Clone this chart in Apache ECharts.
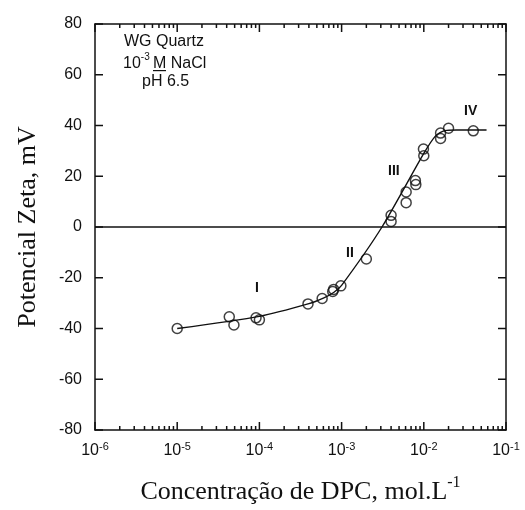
<!DOCTYPE html>
<html>
<head>
<meta charset="utf-8">
<script src="https://cdn.jsdelivr.net/npm/echarts@6/dist/echarts.min.js"></script>
<style>
  html, body { margin: 0; padding: 0; background: #fff; }
  #chart { width: 525px; height: 510px; }
</style>
</head>
<body>
<div id="chart"></div>
<script>
// measured points (concentration, zeta potential)
const concPts = [1e-5, 4.3e-5, 4.9e-5, 9.1e-5, 1.0e-4, 3.9e-4, 5.8e-4, 7.8e-4, 8.0e-4, 9.8e-4, 2.0e-3,
  4.0e-3, 4.0e-3, 6.1e-3, 6.1e-3, 7.9e-3, 8.0e-3, 9.9e-3, 1.0e-2, 1.6e-2, 1.6e-2, 2.0e-2, 4.0e-2]
const zetaPts = [-40, -35.4, -38.6, -35.8, -36.6, -30.3, -28.2, -25.4, -24.6, -23.2, -12.6,
  4.6, 2.2, 13.8, 9.6, 18.3, 16.7, 30.7, 28.1, 37.0, 34.9, 38.9, 37.9]

// hand-drawn trend line
const fitConc = [1e-5, 1e-4, 4e-4, 6e-4, 8e-4, 1e-3, 3.1e-3, 1e-2, 1.4e-2, 1.8e-2, 2.5e-2, 5.8e-2]
const fitZeta = [-40, -35.2, -30.2, -28, -25.8, -23, 0, 29, 36, 38, 38.2, 38.2]

// ticks of the log axis
const decades = [1e-6, 1e-5, 1e-4, 1e-3, 1e-2, 1e-1]
const minorSteps = [2, 3, 4, 5, 6, 7, 8, 9]

// ticks of the zeta axis
const yTickVals = [-80, -60, -40, -20, 0, 20, 40, 60, 80]

const yMin = -80
const yMax = 80
const xMin = 1e-6
const xMax = 1e-1

// [value, tick length]
const xTicks = []
decades.forEach((d, i) => {
  xTicks.push([d, 8])
  if (i < decades.length - 1) {
    minorSteps.forEach((m) => {
      xTicks.push([d * m, 4])
    })
  }
})

const black = '#111'
const sans = 'Liberation Sans'
const serif = 'Liberation Serif'
const tickFont = { fontFamily: sans, fontSize: 16, color: black }

const myChart = echarts.init(document.getElementById('chart'))
const option = {
  animation: false,
  grid: { left: 95, right: 19, top: 24, bottom: 77 },
  xAxis: [
    {
      type: 'log',
      logBase: 10,
      min: xMin,
      max: xMax,
      position: 'bottom',
      axisLine: { show: true, onZero: false, lineStyle: { color: black, width: 1.5 } },
      axisTick: { show: false },
      splitLine: { show: false },
      axisLabel: {
        margin: 11,
        formatter: (v) => '{b|10}{s|' + Math.round(Math.log10(v)) + '}',
        rich: {
          b: { ...tickFont, verticalAlign: 'bottom', lineHeight: 18 },
          s: { fontFamily: sans, fontSize: 11, color: black, verticalAlign: 'top', lineHeight: 18 }
        }
      },
      name: '{t|Concentração de DPC, mol.L}{s|-1}',
      nameLocation: 'middle',
      nameGap: 45,
      nameTextStyle: {
        rich: {
          t: { fontFamily: serif, fontSize: 26, color: black, verticalAlign: 'bottom', lineHeight: 30 },
          s: { fontFamily: serif, fontSize: 16, color: black, verticalAlign: 'top', lineHeight: 30 }
        }
      }
    },
    {
      type: 'log',
      logBase: 10,
      min: xMin,
      max: xMax,
      position: 'top',
      axisLine: { show: true, onZero: false, lineStyle: { color: black, width: 1.5 } },
      axisTick: { show: false },
      axisLabel: { show: false },
      splitLine: { show: false }
    }
  ],
  yAxis: [
    {
      type: 'value',
      min: yMin,
      max: yMax,
      interval: 20,
      position: 'left',
      axisLine: { show: true, lineStyle: { color: black, width: 1.5 } },
      axisTick: { show: false },
      splitLine: { show: false },
      axisLabel: { ...tickFont, margin: 13 },
      name: 'Potencial Zeta, mV',
      nameLocation: 'middle',
      nameGap: 54,
      nameTextStyle: { fontFamily: serif, fontSize: 26, color: black }
    },
    {
      type: 'value',
      min: yMin,
      max: yMax,
      interval: 20,
      position: 'right',
      axisLine: { show: true, lineStyle: { color: black, width: 1.5 } },
      axisTick: { show: false },
      splitLine: { show: false },
      axisLabel: { show: false }
    }
  ],
  series: [
    {
      type: 'line',
      data: fitConc.map((c, i) => [c, fitZeta[i]]),
      smooth: 0.25,
      symbol: 'none',
      lineStyle: { color: black, width: 1.4 },
      markLine: {
        silent: true,
        symbol: 'none',
        label: { show: false },
        lineStyle: { color: black, width: 1.5, type: 'solid' },
        data: [{ yAxis: 0 }]
      }
    },
    {
      type: 'scatter',
      data: concPts.map((c, i) => [c, zetaPts[i]]),
      symbol: 'circle',
      symbolSize: 10,
      itemStyle: { color: 'rgba(255,255,255,0)', borderColor: black, borderWidth: 1.5 }
    },
    {
      // log axis ticks, bottom and top, pointing inward
      type: 'custom',
      data: xTicks,
      clip: false,
      renderItem: (params, api) => {
        const b = api.coord([api.value(0), yMin])
        const t = api.coord([api.value(0), yMax])
        const len = api.value(1)
        return {
          type: 'group',
          children: [
            { type: 'line', shape: { x1: b[0], y1: b[1], x2: b[0], y2: b[1] - len }, style: { stroke: black, lineWidth: 1.5 } },
            { type: 'line', shape: { x1: t[0], y1: t[1], x2: t[0], y2: t[1] + len }, style: { stroke: black, lineWidth: 1.5 } }
          ]
        }
      }
    },
    {
      // zeta axis ticks, left and right, pointing inward
      type: 'custom',
      data: yTickVals.map((v) => [xMin, v]),
      clip: false,
      renderItem: (params, api) => {
        const l = api.coord([xMin, api.value(1)])
        const r = api.coord([xMax, api.value(1)])
        return {
          type: 'group',
          children: [
            { type: 'line', shape: { x1: l[0], y1: l[1], x2: l[0] + 8, y2: l[1] }, style: { stroke: black, lineWidth: 1.5 } },
            { type: 'line', shape: { x1: r[0], y1: r[1], x2: r[0] - 8, y2: r[1] }, style: { stroke: black, lineWidth: 1.5 } }
          ]
        }
      }
    }
  ],
  graphic: [
    { type: 'text', left: 124, top: 34, style: { text: 'WG Quartz', font: '16px "Liberation Sans"', fill: black } },
    {
      type: 'text',
      left: 123,
      top: 52,
      style: {
        text: '{a|10}{s|-3} {a|M NaCl}',
        rich: {
          a: { fontFamily: sans, fontSize: 16, fill: black, verticalAlign: 'bottom', lineHeight: 20 },
          s: { fontFamily: sans, fontSize: 10, fill: black, verticalAlign: 'top', lineHeight: 20 }
        }
      }
    },
    { type: 'rect', left: 153, top: 70, shape: { width: 13, height: 1.2 }, style: { fill: black } },
    { type: 'text', left: 142, top: 74, style: { text: 'pH 6.5', font: '16px "Liberation Sans"', fill: black } },
    { type: 'text', left: 255, top: 281, style: { text: 'I', font: 'bold 14px "Liberation Sans"', fill: black } },
    { type: 'text', left: 346, top: 246, style: { text: 'II', font: 'bold 14px "Liberation Sans"', fill: black } },
    { type: 'text', left: 388, top: 164, style: { text: 'III', font: 'bold 14px "Liberation Sans"', fill: black } },
    { type: 'text', left: 464, top: 104, style: { text: 'IV', font: 'bold 14px "Liberation Sans"', fill: black } }
  ]
}
myChart.setOption(option)
</script>
</body>
</html>
